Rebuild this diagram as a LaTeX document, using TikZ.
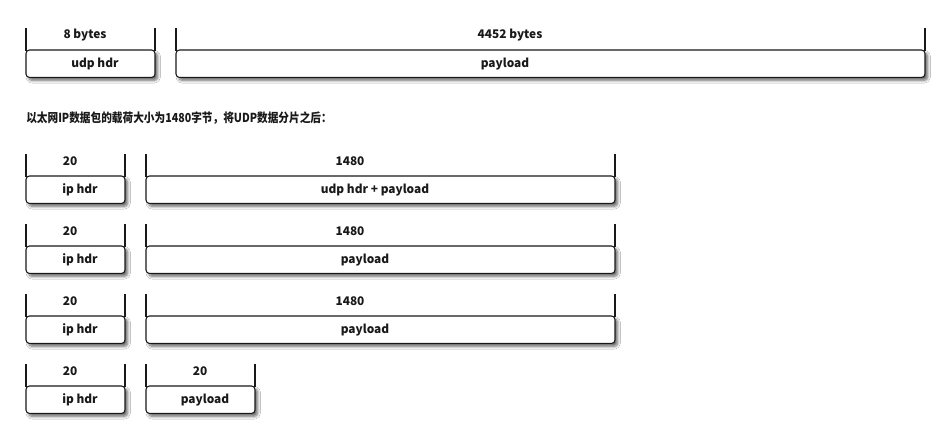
\documentclass[tikz,border=0pt]{standalone}
\usepackage{fontspec}
\setmainfont{Noto Sans CJK SC}
\newfontfamily\notefont[FakeStretch=0.86]{Noto Sans CJK SC}
\usetikzlibrary{shadows.blur}
\begin{document}
\begin{tikzpicture}[x=0.75pt,y=-0.75pt,
  box/.style={draw=black!90, line width=0.8pt, rounded corners=2.6pt, fill=white,
    inner sep=0pt, outer sep=0pt, minimum height=20.6pt, anchor=north west,
    blur shadow={shadow xshift=2pt, shadow yshift=-2.2pt, shadow blur radius=2pt,
      shadow blur steps=8, shadow opacity=60}},
  lbl/.style={font=\bfseries\fontsize{8.9}{10}\selectfont, inner sep=0pt, text=black!90},
  tick/.style={line width=0.8pt, draw=black!90}]
\fill[white] (0,0) rectangle (950,448);
\useasboundingbox (0,0) rectangle (950,448);

% top row
\node[box, minimum width=96.75pt] (udph) at (26,50) {};
\node[box, minimum width=561.75pt] (pay) at (176,50) {};
\draw[tick] ([yshift=-0.6pt]udph.north west) -- ++(0,-22.8) coordinate (udphA);
\draw[tick] ([yshift=-0.6pt]udph.north east) -- ++(0,-22.8) coordinate (udphB);
\draw[tick] ([yshift=-0.6pt]pay.north west) -- ++(0,-22.8) coordinate (payA);
\draw[tick] ([yshift=-0.6pt]pay.north east) -- ++(0,-22.8) coordinate (payB);
\node[lbl] (udphs) at (85,35.5) {8 bytes};
\node[lbl] (udpht) at (95,63.8) {udp hdr};
\node[lbl] (pays) at (510,35.5) {4452 bytes};
\node[lbl] (payt) at (505,63.8) {payload};

\node[font=\notefont\bfseries\fontsize{9.3}{11}\selectfont, inner sep=0pt, text=black!90, anchor=west] (note) at (26,118.5) {以太网IP数据包的载荷大小为1480字节，将UDP数据分片之后：};

% row 2
\node[box, minimum width=74.25pt] (ip1) at (26,176) {};
\node[box, minimum width=351.75pt] (p1) at (146,176) {};
\draw[tick] ([yshift=-0.6pt]ip1.north west) -- ++(0,-22.8) coordinate (ip1A);
\draw[tick] ([yshift=-0.6pt]ip1.north east) -- ++(0,-22.8) coordinate (ip1B);
\draw[tick] ([yshift=-0.6pt]p1.north west) -- ++(0,-22.8) coordinate (p1A);
\draw[tick] ([yshift=-0.6pt]p1.north east) -- ++(0,-22.8) coordinate (p1B);
\node[lbl] (ip1s) at (70,161.5) {20};
\node[lbl] (ip1t) at (80,189.8) {ip hdr};
\node[lbl] (p1s) at (350,161.5) {1480};
\node[lbl] (p1t) at (375,189.8) {udp hdr + payload};

% row 3
\node[box, minimum width=74.25pt] (ip2) at (26,246) {};
\node[box, minimum width=351.75pt] (p2) at (146,246) {};
\draw[tick] ([yshift=-0.6pt]ip2.north west) -- ++(0,-22.8) coordinate (ip2A);
\draw[tick] ([yshift=-0.6pt]ip2.north east) -- ++(0,-22.8) coordinate (ip2B);
\draw[tick] ([yshift=-0.6pt]p2.north west) -- ++(0,-22.8) coordinate (p2A);
\draw[tick] ([yshift=-0.6pt]p2.north east) -- ++(0,-22.8) coordinate (p2B);
\node[lbl] (ip2s) at (70,231.5) {20};
\node[lbl] (ip2t) at (80,259.8) {ip hdr};
\node[lbl] (p2s) at (350,231.5) {1480};
\node[lbl] (p2t) at (365,259.8) {payload};

% row 4
\node[box, minimum width=74.25pt] (ip3) at (26,316) {};
\node[box, minimum width=351.75pt] (p3) at (146,316) {};
\draw[tick] ([yshift=-0.6pt]ip3.north west) -- ++(0,-22.8) coordinate (ip3A);
\draw[tick] ([yshift=-0.6pt]ip3.north east) -- ++(0,-22.8) coordinate (ip3B);
\draw[tick] ([yshift=-0.6pt]p3.north west) -- ++(0,-22.8) coordinate (p3A);
\draw[tick] ([yshift=-0.6pt]p3.north east) -- ++(0,-22.8) coordinate (p3B);
\node[lbl] (ip3s) at (70,301.5) {20};
\node[lbl] (ip3t) at (80,329.8) {ip hdr};
\node[lbl] (p3s) at (350,301.5) {1480};
\node[lbl] (p3t) at (365,329.8) {payload};

% row 5
\node[box, minimum width=74.25pt] (ip4) at (26,386) {};
\node[box, minimum width=81.75pt] (p4) at (146,386) {};
\draw[tick] ([yshift=-0.6pt]ip4.north west) -- ++(0,-22.8) coordinate (ip4A);
\draw[tick] ([yshift=-0.6pt]ip4.north east) -- ++(0,-22.8) coordinate (ip4B);
\draw[tick] ([yshift=-0.6pt]p4.north west) -- ++(0,-22.8) coordinate (p4A);
\draw[tick] ([yshift=-0.6pt]p4.north east) -- ++(0,-22.8) coordinate (p4B);
\node[lbl] (ip4s) at (70,371.5) {20};
\node[lbl] (ip4t) at (80,399.8) {ip hdr};
\node[lbl] (p4s) at (200,371.5) {20};
\node[lbl] (p4t) at (205,399.8) {payload};
\end{tikzpicture}
\end{document}
